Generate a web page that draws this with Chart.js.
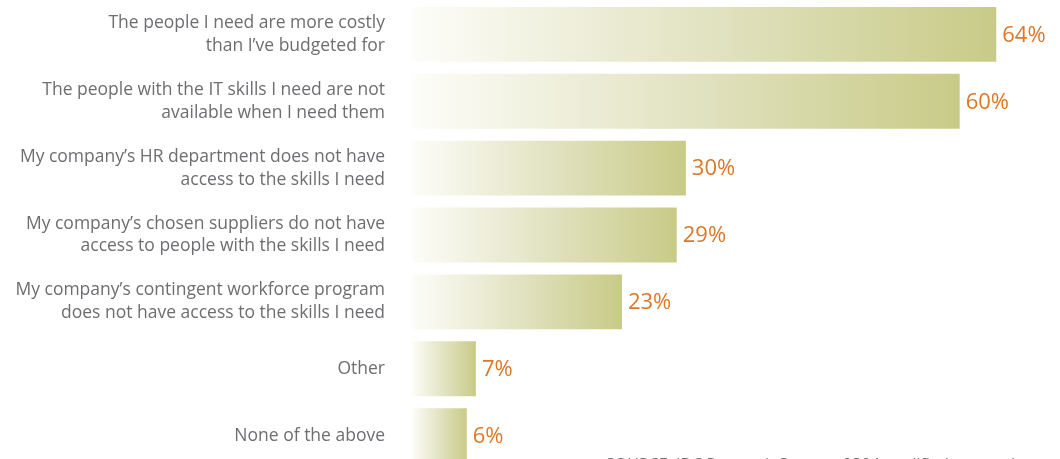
<!DOCTYPE html>
<html>
<head>
<meta charset="utf-8">
<script src="https://cdn.jsdelivr.net/npm/chart.js@4/dist/chart.umd.min.js"></script>
<style>
  html, body { margin: 0; padding: 0; background: #fff; overflow: hidden; }
  #wrap { position: relative; width: 1060px; height: 470px; }
  #source { position: absolute; left: 606px; top: 453px; font: 16px "Open Sans", sans-serif; color: #6d6e70; white-space: nowrap; }
</style>
</head>
<body>
<div id="wrap">
  <canvas id="graph" width="1060" height="470"></canvas>
  <div id="source">SOURCE: IDC Research Survey of 304 qualified respondents</div>
</div>
<script>
const categories = [
    ["The people I need are more costly", "than I\u2019ve budgeted for"],
    ["The people with the IT skills I need are not", "available when I need them"],
    ["My company\u2019s HR department does not have", "access to the skills I need"],
    ["My company\u2019s chosen suppliers do not have", "access to people with the skills I need"],
    ["My company\u2019s contingent workforce program", "does not have access to the skills I need"],
    "Other",
    "None of the above"
];
const valeurs = [64, 60, 30, 29, 23, 7, 6];

function degrade(context) {
    const chart = context.chart;
    const area = chart.chartArea;
    if (!area || !chart.scales.x) return '#c9cc8a';
    const v = valeurs[context.dataIndex];
    const x0 = chart.scales.x.getPixelForValue(0);
    const x1 = chart.scales.x.getPixelForValue(v);
    const g = chart.ctx.createLinearGradient(x0, 0, x1, 0);
    g.addColorStop(0, '#fdfdf9');
    g.addColorStop(0.5, '#e2e3c2');
    g.addColorStop(1, '#c8cb87');
    return g;
}

// pourcentages au bout des barres
const etiquettes = {
    id: 'etiquettes',
    afterDatasetsDraw(chart) {
        const ctx = chart.ctx;
        const meta = chart.getDatasetMeta(0);
        ctx.save();
        ctx.font = '22px "Open Sans", sans-serif';
        ctx.fillStyle = '#de7726';
        ctx.textAlign = 'left';
        ctx.textBaseline = 'middle';
        meta.data.forEach((bar, i) => {
            ctx.fillText(valeurs[i] + '%', bar.x + 6, bar.y + 1);
        });
        ctx.restore();
    }
};

new Chart(document.getElementById('graph').getContext('2d'), {
    type: 'bar',
    data: {
        labels: categories,
        datasets: [{
            data: valeurs,
            backgroundColor: degrade,
            borderWidth: 0,
            barPercentage: 0.82,
            categoryPercentage: 1
        }]
    },
    plugins: [etiquettes],
    options: {
        indexAxis: 'y',
        responsive: false,
        animation: false,
        layout: { padding: { top: 1, right: 9, bottom: 1, left: 0 } },
        plugins: { legend: { display: false }, tooltip: { enabled: false } },
        scales: {
            x: { display: false, min: 0, max: 70 },
            y: {
                grid: { display: false, drawTicks: false },
                border: { display: false },
                ticks: {
                    color: '#6d6e71',
                    font: { family: '"Open Sans", sans-serif', size: 17.5, weight: 400, lineHeight: 1.31 },
                    padding: 27
                },
                afterFit(scale) {
                    scale.width = 412;
                    scale.paddingTop = 0;
                    scale.paddingBottom = 0;
                }
            }
        }
    }
});
</script>
</body>
</html>
